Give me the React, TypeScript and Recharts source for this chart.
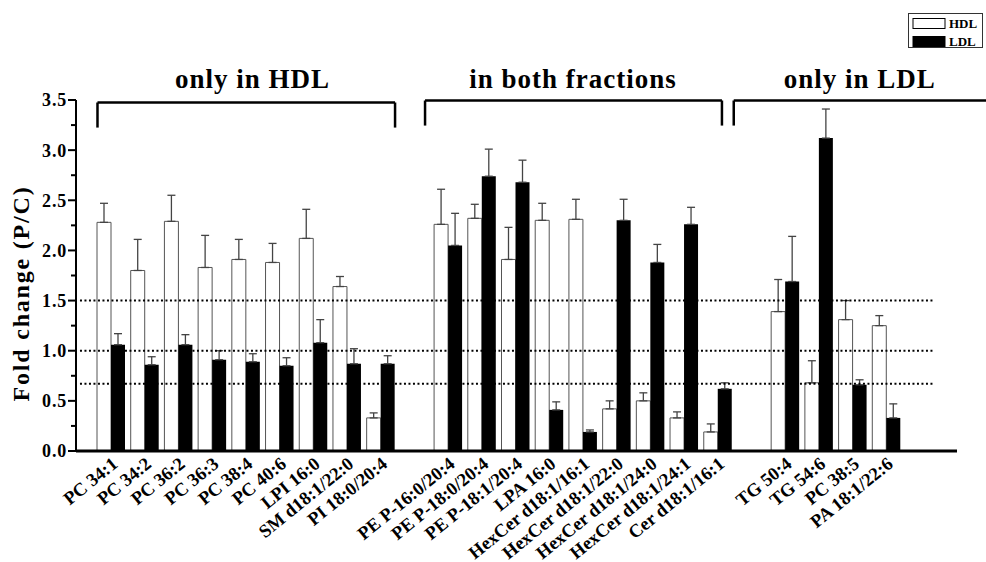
import React from 'react';
import { BarChart, Bar, XAxis, YAxis, ErrorBar, ReferenceLine, ReferenceDot, Legend } from 'recharts';

const FONT = "'Liberation Serif', 'Times New Roman', Times, serif";

const categories = [
  'PC 34:1', 'PC 34:2', 'PC 36:2', 'PC 36:3', 'PC 38:4', 'PC 40:6', 'LPI 16:0', 'SM d18:1/22:0', 'PI 18:0/20:4',
  ' ',
  'PE P-16:0/20:4', 'PE P-18:0/20:4', 'PE P-18:1/20:4', 'LPA 16:0', 'HexCer d18:1/16:1', 'HexCer d18:1/22:0',
  'HexCer d18:1/24:0', 'HexCer d18:1/24:1', 'Cer d18:1/16:1',
  '  ',
  'TG 50:4', 'TG 54:6', 'PC 38:5', 'PA 18:1/22:6',
];

const hdlValues = [
  2.28, 1.80, 2.29, 1.83, 1.91, 1.88, 2.12, 1.64, 0.33,
  null,
  2.26, 2.32, 1.91, 2.30, 2.31, 0.42, 0.50, 0.33, 0.19,
  null,
  1.39, 0.68, 1.31, 1.25,
];
const hdlErrors = [
  0.19, 0.31, 0.26, 0.32, 0.20, 0.19, 0.29, 0.10, 0.05,
  null,
  0.35, 0.14, 0.32, 0.17, 0.20, 0.08, 0.08, 0.06, 0.08,
  null,
  0.32, 0.22, 0.19, 0.10,
];
const ldlValues = [
  1.06, 0.86, 1.06, 0.91, 0.89, 0.85, 1.08, 0.87, 0.87,
  null,
  2.05, 2.74, 2.68, 0.41, 0.19, 2.30, 1.88, 2.26, 0.62,
  null,
  1.69, 3.12, 0.66, 0.33,
];
const ldlErrors = [
  0.11, 0.08, 0.10, 0.09, 0.08, 0.08, 0.23, 0.15, 0.08,
  null,
  0.32, 0.27, 0.22, 0.08, 0.02, 0.21, 0.18, 0.17, 0.06,
  null,
  0.45, 0.29, 0.05, 0.14,
];

const yTicks = [0, 0.25, 0.5, 0.75, 1, 1.25, 1.5, 1.75, 2, 2.25, 2.5, 2.75, 3, 3.25, 3.5];
const thresholds = [1.5, 1.0, 0.67];
const groupTitles = [
  { text: 'only in HDL', x: 4.19 },
  { text: 'in both fractions', x: 13.7 },
  { text: 'only in LDL', x: 22.21 },
];
// brackets: [left, right, top, bottom, hasRightLeg]
const brackets = [
  { left: -0.41, right: 8.42, top: 3.475, bottom: 3.225, rightLeg: true },
  { left: 9.31, right: 18.12, top: 3.495, bottom: 3.245, rightLeg: true },
  { left: 18.47, right: 26.6, top: 3.495, bottom: 3.245, rightLeg: false },
];

const data = categories.map((name, i) => ({
  name,
  idx: i,
  HDL: hdlValues[i],
  LDL: ldlValues[i],
  hdlErr: hdlErrors[i] == null ? null : [0, hdlErrors[i]],
  ldlErr: ldlErrors[i] == null ? null : [0, ldlErrors[i]],
}));

const YTick = (props: any) => {
  const { x, y, payload } = props;
  const v = payload.value as number;
  const major = Math.abs(v * 2 - Math.round(v * 2)) < 1e-6;
  return (
    <g>
      <line x1={x - (major ? 8 : 5)} x2={x} y1={y} y2={y} stroke="#000" strokeWidth={2} />
      {major && (
        <text x={x - 9} y={y} dy="0.36em" textAnchor="end" fontFamily={FONT} fontWeight="bold" fontSize={18} letterSpacing={0.8} fill="#000">
          {v.toFixed(1)}
        </text>
      )}
    </g>
  );
};

const XTick = (props: any) => {
  const { x, y, payload } = props;
  return (
    <g transform={`translate(${x},${y})`}>
      <text x={0} y={0} transform="translate(8,15) rotate(-39)" textAnchor="end" fontFamily={FONT} fontWeight="bold" fontSize={18.5} fill="#000">
        {payload.value}
      </text>
    </g>
  );
};

const LegendContent = (props: any) => {
  const payload = props.payload || [];
  return (
    <svg width={76} height={36} style={{ display: 'block' }}>
      <rect x={0.5} y={0.5} width={74} height={34} fill="#fff" stroke="#333" strokeWidth={1} />
      {payload.map((p: any, i: number) => (
        <g key={p.value}>
          <rect x={5} y={5.5 + i * 18} width={32} height={10} fill={p.value === 'HDL' ? '#fff' : '#000'} stroke="#000" strokeWidth={1} />
          <text x={41} y={15 + i * 18} fontFamily={FONT} fontWeight="bold" fontSize={13} fill="#000">{p.value}</text>
        </g>
      ))}
    </svg>
  );
};

const YLabel = (props: any) => {
  const vb = props.viewBox || { x: 16, y: 100, width: 60, height: 351 };
  const cx = vb.x + 13;
  const cy = vb.y + vb.height / 2 + 18;
  return (
    <text x={cx} y={cy} transform={`rotate(-90, ${cx}, ${cy})`} textAnchor="middle" fontFamily={FONT} fontWeight="bold" fontSize={24} letterSpacing={1.8} fill="#000">
      Fold change (P/C)
    </text>
  );
};

const TitleLabel = (text: string) => (props: any) => {
  const vb = props.viewBox;
  const cx = vb.x + vb.width / 2;
  const cy = vb.y + vb.height / 2;
  return (
    <text x={cx} y={cy} textAnchor="middle" fontFamily={FONT} fontWeight="bold" fontSize={27} letterSpacing={1.0} fill="#000">
      {text}
    </text>
  );
};

export default function App() {
  return (
    <div style={{ position: 'absolute', left: 0, top: 0, width: 986, height: 562, background: '#fff' }}>
      <BarChart
        width={986}
        height={562}
        data={data}
        margin={{ top: 100, right: 29, bottom: 0, left: 16 }}
        barGap={0}
      >
        <XAxis
          xAxisId="c"
          dataKey="name"
          type="category"
          interval={0}
          padding={{ left: 18, right: 54 }}
          height={111}
          tickLine={false}
          tickSize={0}
          tickMargin={0}
          axisLine={{ stroke: '#000', strokeWidth: 3 }}
          tick={<XTick />}
        />
        <XAxis xAxisId="n" dataKey="idx" type="number" domain={[-1.0475, 25.095]} allowDataOverflow hide />
        <YAxis
          domain={[0, 3.5]}
          ticks={yTicks}
          interval={0}
          width={60}
          tickLine={false}
          tickSize={0}
          tickMargin={0}
          axisLine={{ stroke: '#000', strokeWidth: 2 }}
          tick={<YTick />}
          label={<YLabel />}
        />
        <Legend
          layout="vertical"
          align="center"
          verticalAlign="middle"
          content={<LegendContent />}
          wrapperStyle={{ top: 13, left: 908, width: 76, height: 36 }}
        />
        <Bar xAxisId="c" dataKey="HDL" name="HDL" fill="none" stroke="#555" strokeWidth={1} barSize={14} isAnimationActive={false}>
          <ErrorBar dataKey="hdlErr" direction="y" width={4} stroke="#444" strokeWidth={1.3} />
        </Bar>
        <Bar xAxisId="c" dataKey="LDL" name="LDL" fill="#000" barSize={14} isAnimationActive={false}>
          <ErrorBar dataKey="ldlErr" direction="y" width={4} stroke="#444" strokeWidth={1.3} />
        </Bar>
        {thresholds.map((t) => (
          <ReferenceLine
            key={`t${t}`}
            xAxisId="n"
            segment={[{ x: -0.93, y: t }, { x: 24.44, y: t }]}
            stroke="#000"
            strokeWidth={2}
            strokeDasharray="2 2.5"
            ifOverflow="visible"
          />
        ))}
        {brackets.map((b, i) => (
          <ReferenceLine
            key={`bt${i}`}
            xAxisId="n"
            segment={[{ x: b.left, y: b.top }, { x: b.right, y: b.top }]}
            stroke="#000"
            strokeWidth={2.5}
            ifOverflow="visible"
          />
        ))}
        {brackets.map((b, i) => (
          <ReferenceLine
            key={`bl${i}`}
            xAxisId="n"
            segment={[{ x: b.left, y: b.top }, { x: b.left, y: b.bottom }]}
            stroke="#000"
            strokeWidth={2.5}
            ifOverflow="visible"
          />
        ))}
        {brackets.filter((b) => b.rightLeg).map((b, i) => (
          <ReferenceLine
            key={`br${i}`}
            xAxisId="n"
            segment={[{ x: b.right, y: b.top }, { x: b.right, y: b.bottom }]}
            stroke="#000"
            strokeWidth={2.5}
            ifOverflow="visible"
          />
        ))}
        {groupTitles.map((g) => (
          <ReferenceDot
            key={g.text}
            xAxisId="n"
            x={g.x}
            y={3.62}
            r={0}
            fill="none"
            stroke="none"
            ifOverflow="visible"
            label={TitleLabel(g.text)}
          />
        ))}
      </BarChart>
    </div>
  );
}
